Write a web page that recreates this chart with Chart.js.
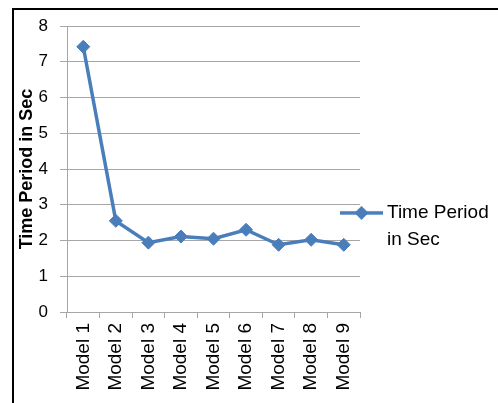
<!DOCTYPE html>
<html>
<head>
<meta charset="utf-8">
<script src="https://cdn.jsdelivr.net/npm/chart.js@4/dist/chart.umd.min.js"></script>
<style>
  html, body { margin: 0; padding: 0; background: #fff; overflow: hidden; }
  body { width: 498px; height: 403px; position: relative; }
  #frame {
    position: absolute; left: 12px; top: 8px;
    border: 2px solid #000;
    width: 520px; height: 424px;
  }
  #chart { display: block; }
</style>
</head>
<body>
<div id="frame"><canvas id="chart" width="520" height="424"></canvas></div>
<script>
// Models on the category axis
const categories = ['Model 1', 'Model 2', 'Model 3', 'Model 4', 'Model 5', 'Model 6', 'Model 7', 'Model 8', 'Model 9'];
// Measured time period of each model, in seconds
const timePeriod = [7.42, 2.55, 1.94, 2.11, 2.05, 2.30, 1.88, 2.02, 1.88];
const seriesName = 'Time Period in Sec';
const legendLines = ['Time Period', 'in Sec'];
const yTicks = [0, 1, 2, 3, 4, 5, 6, 7, 8];

const BLUE = '#4A7EBB';
const GRID = '#A6A6A6';
const FONT = "'Liberation Sans', Arial, sans-serif";

// Legend symbol: a short line segment with a diamond in the middle
function makeLegendIcon() {
  const c = document.createElement('canvas');
  c.width = 43; c.height = 16;
  const g = c.getContext('2d');
  g.strokeStyle = BLUE; g.lineWidth = 3.5;
  g.beginPath(); g.moveTo(0, 8); g.lineTo(43, 8); g.stroke();
  g.fillStyle = BLUE;
  g.beginPath();
  g.moveTo(21.5 - 7, 8); g.lineTo(21.5, 1); g.lineTo(21.5 + 7, 8); g.lineTo(21.5, 15);
  g.closePath(); g.fill();
  return c;
}
const legendIcon = makeLegendIcon();

// Let the legend overlap the right edge of the plot a little
const legendShift = {
  id: 'legendShift',
  afterLayout(chart) {
    const lg = chart.legend;
    if (!lg) return;
    const w = lg.width;
    lg.left = chart.chartArea.right - 24.5;
    lg.right = lg.left + w;
  }
};

new Chart(document.getElementById('chart'), {
  type: 'line',
  data: {
    labels: categories,
    datasets: [{
      label: seriesName,
      data: timePeriod,
      borderColor: BLUE,
      backgroundColor: BLUE,
      borderWidth: 3.5,
      tension: 0,
      pointStyle: 'rectRot',
      pointRadius: 6.5,
      pointBackgroundColor: BLUE,
      pointBorderColor: BLUE,
      pointBorderWidth: 1
    }]
  },
  plugins: [legendShift],
  options: {
    responsive: false,
    devicePixelRatio: 1,
    animation: false,
    layout: { padding: { top: 16, left: 0, right: 14, bottom: 0 } },
    plugins: {
      tooltip: { enabled: false },
      legend: {
        position: 'right',
        maxWidth: 160,
        labels: {
          usePointStyle: true,
          pointStyleWidth: 32,
          boxWidth: 32,
          padding: 10,
          color: '#000',
          font: { family: FONT, size: 19, lineHeight: 1.4 },
          generateLabels: (chart) => [{
            text: legendLines,
            pointStyle: legendIcon,
            fillStyle: BLUE,
            strokeStyle: BLUE,
            lineWidth: 0,
            hidden: false,
            datasetIndex: 0
          }]
        }
      }
    },
    scales: {
      x: {
        type: 'category',
        offset: true,
        grid: {
          offset: true,
          drawOnChartArea: false,
          drawTicks: true,
          tickLength: 6,
          color: GRID
        },
        border: { display: true, color: GRID },
        ticks: {
          minRotation: 90,
          maxRotation: 90,
          padding: 5,
          color: '#000',
          font: { family: FONT, size: 19 }
        },
        afterFit: (s) => { s.height = 122; s.paddingLeft = 0; s.paddingRight = 0; }
      },
      y: {
        min: 0,
        max: 8,
        afterBuildTicks: (s) => { s.ticks = yTicks.map(v => ({ value: v })); },
        grid: { color: GRID, tickLength: 7 },
        border: { display: true, color: GRID },
        ticks: {
          padding: 12,
          color: '#000',
          font: { family: FONT, size: 17 }
        },
        title: {
          display: true,
          text: seriesName,
          color: '#000',
          padding: { top: 2, bottom: 2 },
          font: { family: FONT, size: 18, weight: 'bold' }
        },
        afterFit: (s) => { s.width = 53; s.paddingTop = 0; s.paddingBottom = 0; }
      }
    }
  }
});
</script>
</body>
</html>
